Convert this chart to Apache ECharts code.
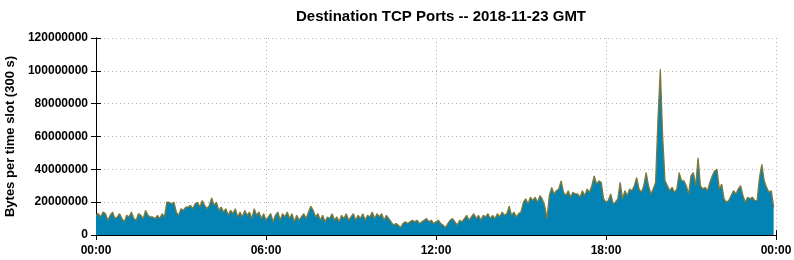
<!DOCTYPE html>
<html lang="en">
<head>
    <meta charset="UTF-8">
    <title>Destination TCP Ports</title>
    <script src="https://cdn.jsdelivr.net/npm/echarts@6/dist/echarts.min.js"></script>
    <style>
        html, body { margin: 0; padding: 0; background: #fff; }
        #chart { width: 794px; height: 260px; }
    </style>
</head>
<body>
<div id="chart"></div>
<script>
    // 300 s slots, one row per hour (12 slots), values in millions of bytes
    const slotMinutes = 5;
    const bytesMillions = [
        12, 13, 11, 14, 13, 9, 12, 14, 10, 11, 13, 10,
        8, 12, 11, 14, 10, 9, 13, 12, 10, 15, 12, 11,
        11, 10, 12, 10, 13, 11, 20, 20, 19, 20, 14, 12,
        16, 15, 17, 17, 18, 16, 19, 20, 17, 21, 18, 16,
        18, 22.5, 18, 20, 15, 17, 14, 16, 12, 15, 13, 16,
        11, 14, 11, 15, 12, 14, 10, 16, 12, 14, 10, 13,
        9, 11, 13, 8, 12, 14, 9, 13, 11, 14, 10, 13,
        8, 12, 9, 11, 13, 10, 14, 17.5, 15, 11, 13, 9,
        12, 8, 11, 10, 13, 9, 11, 8, 12, 10, 13, 9,
        11, 13, 9, 12, 10, 13, 9, 12, 11, 14, 10, 13,
        11, 13, 9, 12, 10, 8, 6, 7, 6, 4.5, 7, 8,
        7, 8, 9, 8, 9, 7, 8, 9, 10, 8, 9, 7,
        8, 9, 7, 6, 4.5, 7, 9, 10, 8, 6, 9, 8,
        10, 12, 9, 11, 13, 10, 12, 9, 12, 11, 13, 10,
        12, 10, 13, 11, 14, 12, 13, 17.5, 12, 14, 11, 13,
        14, 20, 22, 19, 23, 21, 23, 20, 24, 22, 18, 10,
        24, 29, 25, 27, 28, 33, 26, 24, 27, 23, 26, 25,
        25, 23, 27, 24, 28, 26, 30, 36, 31, 33, 32, 22,
        20, 21, 25, 19, 20, 22, 32, 22, 27, 24, 28, 27,
        30, 35, 28, 26, 30, 38, 30, 25, 28, 32, 70, 101,
        60, 33, 30, 27, 29, 26, 28, 38, 33, 33, 30, 25,
        36, 38, 30, 47, 30, 28, 29, 27, 32, 36, 39, 40,
        28, 31, 22, 20, 21, 24, 27, 25, 28, 30, 24, 20,
        23, 22, 23, 21, 21, 35, 43, 33, 29, 26, 27, 17
    ];
    const yTicks = [0, 20000000, 40000000, 60000000, 80000000, 100000000, 120000000];
    const xTickLabels = ['00:00', '06:00', '12:00', '18:00', '00:00'];

    const points = bytesMillions.map((v, i) => [i * slotMinutes / 60, v * 1e6]);

    const font = '"Liberation Sans", Arial, sans-serif';
    const gridLine = {show: true, lineStyle: {color: '#b0b0b0', type: [1, 3], width: 1}};
    const axisLine = {show: true, lineStyle: {color: '#000', width: 1}};
    const tick = {show: true, inside: true, length: 5, lineStyle: {color: '#000'}};
    const yMax = yTicks[yTicks.length - 1];
    const yStep = yTicks[1] - yTicks[0];

    const chart = echarts.init(document.getElementById('chart'), null, {renderer: 'canvas'});
    chart.setOption({
        animation: false,
        title: {
            text: 'Destination TCP Ports -- 2018-11-23 GMT',
            left: 436, top: 4, textAlign: 'center',
            textStyle: {fontFamily: font, fontWeight: 'bold', fontSize: 15, color: '#000'}
        },
        grid: {left: 96, right: 18, top: 38, bottom: 25, outerBoundsMode: 'none', containLabel: false},
        xAxis: [{
            type: 'value', min: 0, max: 24, interval: 6,
            axisLine: axisLine, axisTick: tick, splitLine: gridLine,
            axisLabel: {
                margin: 10, color: '#000', fontFamily: font, fontWeight: 'bold', fontSize: 12,
                formatter: v => xTickLabels[v / 6]
            }
        }, {
            type: 'value', position: 'top', min: 0, max: 24, interval: 6,
            axisLine: axisLine, axisTick: tick, splitLine: {show: false}, axisLabel: {show: false}
        }],
        yAxis: [{
            type: 'value', min: 0, max: yMax, interval: yStep,
            name: 'Bytes per time slot (300 s)', nameLocation: 'middle', nameGap: 77,
            nameTextStyle: {fontFamily: font, fontWeight: 'bold', fontSize: 13, color: '#000'},
            axisLine: axisLine, axisTick: tick, splitLine: gridLine,
            axisLabel: {
                margin: 8, color: '#000', fontFamily: font, fontWeight: 'bold', fontSize: 12,
                formatter: v => String(v)
            }
        }, {
            type: 'value', position: 'right', min: 0, max: yMax, interval: yStep,
            axisLine: axisLine, axisTick: tick, splitLine: {show: false}, axisLabel: {show: false}
        }],
        series: [{
            name: 'TCP ports',
            type: 'line',
            data: points,
            showSymbol: false,
            symbol: 'none',
            lineStyle: {color: '#7f7a3a', width: 1.3},
            areaStyle: {color: '#0382b4', opacity: 1},
            z: 3
        }]
    });
</script>
</body>
</html>
